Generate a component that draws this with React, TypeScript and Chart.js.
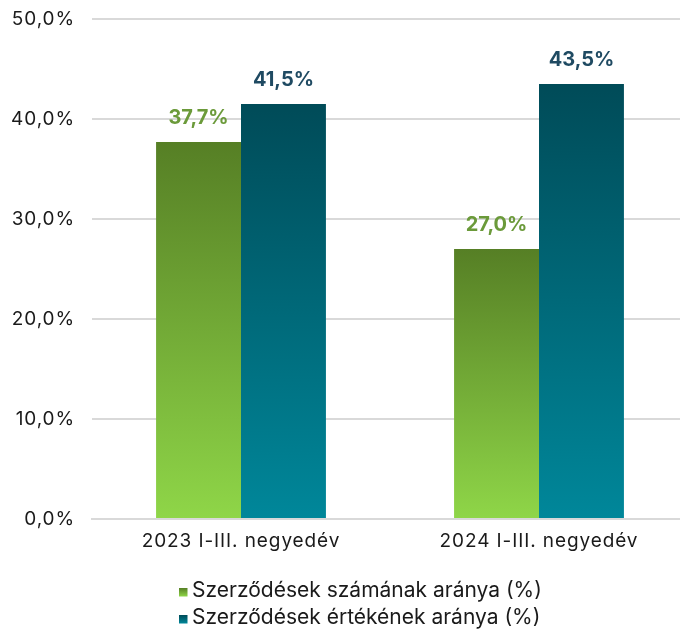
import React, { useEffect, useRef } from "react";
import { Chart, registerables } from "chart.js";

Chart.register(...registerables);

const categories = ["2023 I-III. negyedév", "2024 I-III. negyedév"];
const seriesNames = ["Szerződések számának aránya (%)", "Szerződések értékének aránya (%)"];
const countShare = [37.7, 27.0];
const valueShare = [41.5, 43.5];
const yTicks = [0, 10, 20, 30, 40, 50];

const FONT = "Inter, 'Noto Sans', sans-serif";
const GREEN = ["#567f25", "#8fd648"];
const TEAL = ["#004b58", "#00879a"];

const fmt = (v: number) => v.toFixed(1).replace(".", ",") + "%";

function gradientFor(cols: string[]) {
  return (ctx: any) => {
    const chart = ctx.chart;
    const area = chart.chartArea;
    if (!area || ctx.type !== "data") return cols[1];
    const y = chart.scales.y;
    const v = ctx.raw as number;
    const y0 = y.getPixelForValue(v);
    const y1 = y.getPixelForValue(0);
    const g = chart.ctx.createLinearGradient(0, y0, 0, y1);
    g.addColorStop(0, cols[0]);
    g.addColorStop(1, cols[1]);
    return g;
  };
}

const spacingPlugin = {
  id: "spacing",
  beforeUpdate(chart: any) {
    chart.ctx.letterSpacing = "0.9px";
  },
  beforeDraw(chart: any) {
    chart.ctx.letterSpacing = "0.9px";
  },
};

const labelPlugin = {
  id: "valueLabels",
  afterDatasetsDraw(chart: any) {
    const c = chart.ctx;
    const colors = ["#6b9a3a", "#1f4a62"];
    chart.data.datasets.forEach((ds: any, di: number) => {
      const meta = chart.getDatasetMeta(di);
      meta.data.forEach((bar: any, i: number) => {
        c.save();
        c.letterSpacing = "0px";
        c.font = `bold 20px ${FONT}`;
        c.fillStyle = colors[di];
        c.textAlign = "center";
        c.textBaseline = "middle";
        c.fillText(fmt(ds.data[i]), bar.x, bar.y - 24);
        c.restore();
      });
    });
  },
};

const legendPlugin = {
  id: "customLegend",
  afterDraw(chart: any) {
    const c = chart.ctx;
    const cols = [GREEN, TEAL];
    c.save();
    c.letterSpacing = "0px";
    c.font = `21px ${FONT}`;
    c.textAlign = "left";
    c.textBaseline = "alphabetic";
    seriesNames.forEach((name, i) => {
      const base = 597 + 27 * i;
      const g = c.createLinearGradient(0, base - 9, 0, base - 0.5);
      g.addColorStop(0, cols[i][0]);
      g.addColorStop(1, cols[i][1]);
      c.fillStyle = g;
      c.fillRect(179, base - 9, 8.5, 8.5);
      c.fillStyle = "#1a1a1a";
      c.fillText(name, 192, base);
    });
    c.restore();
  },
};

export default function App() {
  const ref = useRef<HTMLCanvasElement>(null);
  useEffect(() => {
    if (!ref.current) return;
    const chart = new Chart(ref.current, {
      type: "bar",
      data: {
        labels: categories,
        datasets: [
          {
            label: seriesNames[0],
            data: countShare,
            backgroundColor: gradientFor(GREEN),
            barPercentage: 1,
            categoryPercentage: 0.57,
          },
          {
            label: seriesNames[1],
            data: valueShare,
            backgroundColor: gradientFor(TEAL),
            barPercentage: 1,
            categoryPercentage: 0.57,
          },
        ],
      },
      options: {
        animation: false,
        responsive: false,
        maintainAspectRatio: false,
        layout: { padding: { top: 19, left: 0, right: 0, bottom: 0 } },
        plugins: {
          legend: { display: false },
          tooltip: { enabled: false },
        },
        scales: {
          x: {
            grid: { display: false, drawTicks: false },
            border: { color: "#d9d9d9", width: 2 },
            ticks: { font: { family: FONT, size: 19 }, color: "#1a1a1a", padding: 11 },
            afterFit: (s: any) => {
              s.height = 110;
              s.paddingLeft = 0;
              s.paddingRight = 0;
            },
          },
          y: {
            min: 0,
            max: 50,
            afterBuildTicks: (s: any) => {
              s.ticks = yTicks.map((v) => ({ value: v }));
            },
            afterFit: (s: any) => {
              s.width = 92;
              s.paddingTop = 0;
              s.paddingBottom = 0;
            },
            grid: { color: "#d9d9d9", lineWidth: 2, drawTicks: false },
            border: { display: false },
            ticks: {
              font: { family: FONT, size: 19 },
              color: "#1a1a1a",
              padding: 17,
              callback: (v: any) => fmt(Number(v)),
            },
          },
        },
      },
      plugins: [spacingPlugin, labelPlugin, legendPlugin],
    });
    return () => chart.destroy();
  }, []);
  return (
    <div style={{ position: "absolute", left: 0, top: 0, width: 680, height: 629, overflow: "hidden" }}>
      <canvas ref={ref} width={688} height={629} style={{ display: "block" }} />
    </div>
  );
}
